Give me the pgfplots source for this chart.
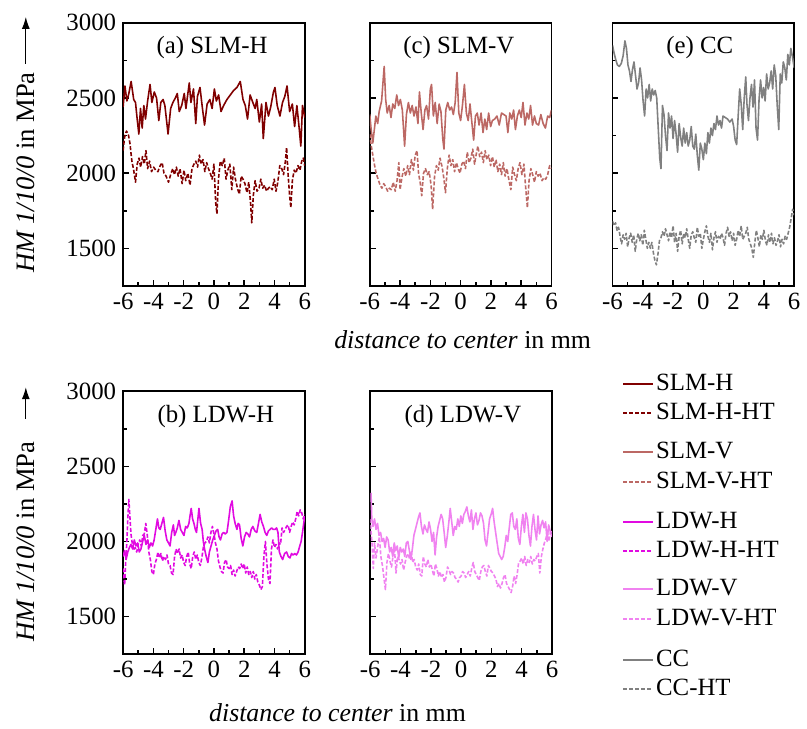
\documentclass[border=0pt]{standalone}
\usepackage{fontspec}
\setmainfont{Liberation Serif}
\usepackage{pgfplots}
\pgfplotsset{compat=1.18}
\usetikzlibrary{arrows.meta}
\definecolor{slmh}{RGB}{128,0,0}
\definecolor{slmv}{RGB}{188,104,100}
\definecolor{ldwh}{RGB}{225,10,225}
\definecolor{ldwv}{RGB}{240,130,240}
\definecolor{ccg}{RGB}{128,128,128}
\newcommand\fs{\fontsize{12.5}{15}\selectfont}
\newcommand\fy{\fontsize{13.4}{16}\selectfont}
\newcommand\fx{\fontsize{13}{15}\selectfont}
\pgfplotsset{
 panel/.style={
  scale only axis, width=91.5pt, height=132.5pt, anchor=south west,
  xmin=-6, xmax=6, ymin=1250, ymax=3000,
  xtick={-6,-4,-2,0,2,4,6}, xticklabels={-6,-4,-2,0,2,4,6},
  ytick={1500,2000,2500,3000},
  minor xtick={-5,-3,-1,1,3,5}, minor ytick={1750,2250,2750},
  tick align=inside, xtick pos=left, ytick pos=left,
  major tick length=3pt, minor tick length=2pt,
  every tick/.style={black, line width=0.8pt},
  axis line style={line width=0.9pt},
  tick label style={font=\fs},
  /pgf/number format/assume math mode=true,
  every axis plot/.append style={line width=0.8pt, line join=round},
 },
 leftpanel/.style={yticklabels={1500,2000,2500,3000}},
 otherpanel/.style={yticklabels={}},
 ht/.style={dash pattern=on 2pt off 1pt},
 legpair/.style={anchor=north west, hide axis, scale only axis, width=1pt, height=1pt,
  xmin=0, xmax=1, ymin=0, ymax=1,
  legend style={at={(0,1)}, anchor=north west, draw=none, fill=none, inner sep=0pt, outer sep=0pt,
   row sep=1.5pt, font=\fs, nodes={inner sep=1pt, text height=9pt, text depth=2.5pt}},
  legend cell align=left,
  legend image code/.code={\draw[##1] (0pt,0pt) -- (15pt,0pt);}},
}
\begin{document}
\begin{tikzpicture}
\path (0,0) rectangle (403.5pt,367pt);
% (a)
\begin{axis}[panel, leftpanel, at={(62pt,223pt)}]
\addplot[slmh] coordinates {(-6.00,2440)(-5.88,2580)(-5.75,2480)(-5.62,2530)(-5.47,2610)(-5.30,2490)(-5.18,2470)(-5.07,2360)(-4.96,2260)(-4.85,2430)(-4.74,2300)(-4.63,2450)(-4.52,2360)(-4.38,2480)(-4.22,2590)(-4.10,2470)(-3.94,2540)(-3.79,2500)(-3.64,2350)(-3.51,2470)(-3.36,2490)(-3.24,2450)(-3.03,2260)(-2.86,2430)(-2.71,2470)(-2.55,2500)(-2.42,2530)(-2.29,2410)(-2.13,2450)(-1.96,2530)(-1.85,2430)(-1.63,2600)(-1.52,2470)(-1.35,2560)(-1.20,2330)(-1.09,2510)(-0.92,2570)(-0.77,2440)(-0.62,2320)(-0.45,2460)(-0.27,2490)(-0.12,2430)(0.03,2560)(0.16,2480)(0.31,2520)(0.47,2410)(0.64,2450)(0.86,2490)(1.08,2520)(1.30,2550)(1.52,2570)(1.74,2610)(1.92,2490)(2.07,2450)(2.22,2360)(2.39,2520)(2.57,2470)(2.72,2430)(2.83,2490)(3.00,2340)(3.15,2460)(3.26,2230)(3.44,2470)(3.60,2380)(3.75,2440)(3.93,2540)(4.03,2570)(4.18,2450)(4.36,2380)(4.53,2470)(4.68,2510)(4.83,2580)(5.00,2410)(5.18,2460)(5.33,2310)(5.48,2450)(5.63,2300)(5.74,2180)(5.85,2450)(6.00,2370)};
\addplot[slmh, ht] coordinates {(-6.00,2150)(-5.90,2240)(-5.78,2280)(-5.66,2260)(-5.55,2200)(-5.42,2080)(-5.30,2020)(-5.18,1940)(-5.07,2060)(-4.95,2100)(-4.84,2040)(-4.72,2110)(-4.60,2060)(-4.49,2150)(-4.38,2030)(-4.25,2080)(-4.12,2010)(-3.98,2040)(-3.85,2020)(-3.70,2010)(-3.55,2050)(-3.42,2070)(-3.30,2000)(-3.16,1980)(-3.00,1940)(-2.86,1990)(-2.72,2030)(-2.60,1990)(-2.48,2040)(-2.36,1980)(-2.24,2030)(-2.10,1930)(-1.98,2020)(-1.86,1950)(-1.72,2000)(-1.58,1920)(-1.45,2030)(-1.32,2060)(-1.20,2080)(-1.08,2040)(-0.96,2120)(-0.84,2060)(-0.72,2090)(-0.60,2010)(-0.48,2070)(-0.36,2030)(-0.24,2000)(-0.12,1960)(0.00,2060)(0.12,1800)(0.20,1730)(0.30,1960)(0.42,2080)(0.55,2050)(0.68,2100)(0.80,1960)(0.92,2020)(1.05,2060)(1.18,1890)(1.30,2040)(1.42,1960)(1.55,1900)(1.68,1860)(1.80,1980)(1.92,1960)(2.05,1930)(2.18,1870)(2.30,1940)(2.42,1800)(2.50,1670)(2.60,1850)(2.72,1950)(2.85,1880)(2.98,1900)(3.10,1960)(3.22,1900)(3.35,1920)(3.48,1880)(3.60,1900)(3.72,1910)(3.85,1890)(3.98,1960)(4.10,1880)(4.22,1940)(4.35,2050)(4.48,2030)(4.60,1990)(4.72,2080)(4.80,2170)(4.90,1990)(5.00,1850)(5.08,1770)(5.18,1950)(5.30,2020)(5.42,2000)(5.55,2050)(5.68,2020)(5.80,2080)(5.90,2100)(6.00,2050)};
\node[font=\fs] at (rel axis cs:0.49,0.905) {(a) SLM-H};
\end{axis}
% (c)
\begin{axis}[panel, otherpanel, at={(186.25pt,223pt)}]
\addplot[slmv] coordinates {(-6.00,2390)(-5.92,2300)(-5.80,2200)(-5.70,2290)(-5.60,2380)(-5.48,2330)(-5.38,2410)(-5.22,2480)(-5.05,2710)(-4.95,2490)(-4.85,2400)(-4.72,2450)(-4.60,2370)(-4.48,2460)(-4.35,2430)(-4.22,2520)(-4.10,2450)(-3.98,2490)(-3.85,2420)(-3.70,2180)(-3.58,2390)(-3.45,2470)(-3.32,2400)(-3.20,2450)(-3.08,2380)(-2.95,2440)(-2.82,2330)(-2.72,2540)(-2.60,2400)(-2.48,2290)(-2.36,2420)(-2.25,2450)(-2.12,2360)(-2.00,2560)(-1.92,2590)(-1.80,2380)(-1.68,2470)(-1.55,2330)(-1.42,2460)(-1.30,2410)(-1.18,2230)(-1.10,2160)(-0.98,2420)(-0.85,2470)(-0.72,2420)(-0.60,2440)(-0.48,2390)(-0.36,2470)(-0.24,2670)(-0.12,2400)(0.00,2350)(0.12,2450)(0.25,2590)(0.38,2400)(0.50,2350)(0.62,2460)(0.75,2330)(0.86,2220)(0.98,2380)(1.10,2400)(1.22,2320)(1.35,2400)(1.48,2270)(1.60,2360)(1.72,2290)(1.85,2400)(1.98,2310)(2.10,2350)(2.25,2360)(2.40,2380)(2.55,2320)(2.70,2400)(2.85,2390)(3.00,2380)(3.12,2270)(3.25,2400)(3.38,2360)(3.50,2420)(3.62,2290)(3.75,2380)(3.88,2420)(4.00,2370)(4.12,2470)(4.25,2320)(4.38,2400)(4.50,2360)(4.62,2450)(4.75,2320)(4.88,2380)(5.00,2330)(5.15,2320)(5.30,2390)(5.45,2330)(5.60,2300)(5.75,2380)(5.88,2370)(6.00,2420)};
\addplot[slmv, ht] coordinates {(-6.00,2260)(-5.90,2180)(-5.80,2120)(-5.70,2060)(-5.58,2000)(-5.45,1960)(-5.32,1920)(-5.20,1900)(-5.08,1930)(-4.95,1910)(-4.82,1880)(-4.70,1900)(-4.58,1890)(-4.45,1940)(-4.32,1880)(-4.20,1950)(-4.08,2070)(-4.00,1890)(-3.88,1970)(-3.75,2030)(-3.62,1980)(-3.50,2050)(-3.38,1990)(-3.25,2090)(-3.12,2020)(-3.00,2120)(-2.88,2150)(-2.78,2000)(-2.66,1930)(-2.57,1850)(-2.45,2000)(-2.32,2030)(-2.20,1990)(-2.08,2010)(-1.95,1920)(-1.85,1760)(-1.72,1980)(-1.60,2050)(-1.48,2020)(-1.36,2100)(-1.22,2040)(-1.10,1960)(-1.00,1870)(-0.88,2030)(-0.76,2120)(-0.64,2050)(-0.52,2090)(-0.40,2010)(-0.28,2070)(-0.16,2030)(-0.04,2000)(0.08,2060)(0.20,2080)(0.32,2030)(0.44,2140)(0.56,2070)(0.68,2100)(0.80,2160)(0.92,2060)(1.04,2130)(1.14,2180)(1.26,2110)(1.38,2140)(1.50,2070)(1.62,2150)(1.74,2090)(1.86,2120)(1.98,2050)(2.10,2110)(2.22,2040)(2.34,2090)(2.46,2010)(2.58,2060)(2.70,1990)(2.82,2070)(2.94,1980)(3.06,2030)(3.18,1960)(3.32,1890)(3.44,2040)(3.56,1990)(3.68,1950)(3.80,2030)(3.92,2070)(4.05,1990)(4.18,2060)(4.30,1900)(4.41,1770)(4.52,1950)(4.64,2030)(4.76,1990)(4.88,1940)(5.00,2010)(5.12,1980)(5.24,2000)(5.38,1950)(5.50,1970)(5.62,1960)(5.75,1990)(5.88,2050)(6.00,2030)};
\node[font=\fs] at (rel axis cs:0.49,0.905) {(c) SLM-V};
\end{axis}
% (e)
\begin{axis}[panel, otherpanel, at={(308.5pt,223pt)}]
\addplot[ccg] coordinates {(-6.00,2850)(-5.90,2800)(-5.80,2760)(-5.68,2720)(-5.55,2710)(-5.42,2730)(-5.30,2780)(-5.18,2880)(-5.08,2830)(-4.98,2720)(-4.88,2680)(-4.78,2610)(-4.68,2690)(-4.58,2740)(-4.48,2650)(-4.38,2560)(-4.28,2600)(-4.18,2700)(-4.08,2620)(-3.98,2480)(-3.88,2380)(-3.78,2560)(-3.68,2500)(-3.58,2590)(-3.48,2480)(-3.38,2560)(-3.28,2520)(-3.18,2550)(-3.08,2500)(-2.98,2300)(-2.88,2100)(-2.80,2030)(-2.70,2450)(-2.60,2390)(-2.50,2250)(-2.40,2150)(-2.30,2400)(-2.20,2300)(-2.10,2380)(-2.00,2230)(-1.90,2350)(-1.80,2260)(-1.70,2140)(-1.60,2330)(-1.50,2240)(-1.40,2180)(-1.30,2300)(-1.20,2200)(-1.10,2270)(-1.00,2180)(-0.90,2220)(-0.80,2310)(-0.70,2180)(-0.60,2160)(-0.50,2260)(-0.40,2120)(-0.30,2020)(-0.20,2200)(-0.10,2160)(0.00,2090)(0.10,2200)(0.20,2130)(0.30,2270)(0.40,2200)(0.50,2300)(0.60,2250)(0.70,2330)(0.80,2290)(0.90,2380)(1.00,2320)(1.10,2350)(1.20,2300)(1.30,2380)(1.45,2370)(1.60,2360)(1.75,2340)(1.90,2360)(2.00,2310)(2.10,2220)(2.20,2190)(2.30,2380)(2.40,2560)(2.50,2460)(2.60,2290)(2.70,2500)(2.80,2640)(2.88,2460)(2.98,2350)(3.08,2500)(3.18,2590)(3.28,2440)(3.38,2620)(3.48,2300)(3.58,2220)(3.68,2490)(3.78,2620)(3.88,2500)(3.98,2570)(4.08,2480)(4.18,2660)(4.28,2560)(4.38,2600)(4.48,2680)(4.58,2560)(4.68,2720)(4.78,2650)(4.88,2450)(4.98,2290)(5.08,2660)(5.18,2600)(5.28,2740)(5.38,2700)(5.48,2620)(5.58,2790)(5.68,2720)(5.78,2830)(5.88,2780)(6.00,2700)};
\addplot[ccg, ht] coordinates {(-6.00,1680)(-5.90,1650)(-5.80,1670)(-5.70,1620)(-5.60,1640)(-5.50,1580)(-5.40,1530)(-5.30,1590)(-5.20,1560)(-5.10,1600)(-5.00,1510)(-4.90,1570)(-4.80,1600)(-4.70,1540)(-4.60,1590)(-4.50,1480)(-4.40,1560)(-4.30,1600)(-4.20,1550)(-4.10,1590)(-4.00,1520)(-3.90,1620)(-3.80,1560)(-3.70,1500)(-3.60,1540)(-3.50,1500)(-3.40,1540)(-3.30,1470)(-3.20,1420)(-3.10,1390)(-3.00,1460)(-2.90,1550)(-2.80,1570)(-2.70,1610)(-2.60,1580)(-2.50,1630)(-2.40,1590)(-2.30,1550)(-2.20,1610)(-2.10,1570)(-2.00,1650)(-1.90,1540)(-1.80,1600)(-1.70,1480)(-1.60,1580)(-1.50,1620)(-1.40,1530)(-1.30,1600)(-1.20,1570)(-1.10,1630)(-1.00,1560)(-0.90,1500)(-0.80,1590)(-0.70,1610)(-0.60,1570)(-0.50,1540)(-0.40,1640)(-0.30,1580)(-0.20,1600)(-0.10,1500)(0.00,1560)(0.10,1610)(0.20,1650)(0.30,1580)(0.40,1540)(0.50,1600)(0.60,1490)(0.70,1570)(0.80,1610)(0.90,1540)(1.00,1580)(1.10,1560)(1.20,1600)(1.30,1570)(1.40,1520)(1.50,1600)(1.60,1640)(1.70,1580)(1.80,1610)(1.90,1550)(2.00,1600)(2.10,1520)(2.20,1560)(2.30,1620)(2.40,1580)(2.50,1650)(2.60,1560)(2.70,1580)(2.80,1600)(2.90,1640)(3.00,1560)(3.10,1530)(3.20,1500)(3.30,1440)(3.40,1540)(3.50,1620)(3.60,1570)(3.70,1510)(3.80,1590)(3.90,1560)(4.00,1620)(4.10,1550)(4.20,1520)(4.30,1590)(4.40,1540)(4.50,1600)(4.60,1530)(4.70,1570)(4.80,1520)(4.90,1550)(5.00,1590)(5.10,1510)(5.20,1560)(5.30,1530)(5.40,1580)(5.50,1560)(5.60,1600)(5.70,1640)(5.80,1700)(5.90,1760)(6.00,1720)};
\node[font=\fs] at (rel axis cs:0.48,0.905) {(e) CC};
\end{axis}
% (b)
\begin{axis}[panel, leftpanel, at={(62pt,37.5pt)}]
\addplot[ldwh] coordinates {(-6.00,1900)(-5.90,1940)(-5.80,1880)(-5.69,1930)(-5.58,1960)(-5.48,1980)(-5.37,1950)(-5.26,2010)(-5.15,1970)(-5.04,1990)(-4.93,1930)(-4.82,1950)(-4.71,2000)(-4.60,2040)(-4.49,1980)(-4.38,2010)(-4.27,1960)(-4.16,1990)(-4.05,1970)(-3.95,2010)(-3.84,2080)(-3.73,2150)(-3.64,2090)(-3.55,2080)(-3.44,2120)(-3.33,2160)(-3.22,2070)(-3.11,2010)(-3.00,1990)(-2.90,1970)(-2.79,2060)(-2.68,2110)(-2.60,2040)(-2.52,2060)(-2.42,2090)(-2.31,2140)(-2.20,2080)(-2.09,2060)(-1.98,2040)(-1.87,2100)(-1.76,2090)(-1.65,2120)(-1.58,2170)(-1.50,2220)(-1.41,2150)(-1.32,2120)(-1.23,2080)(-1.15,2060)(-1.07,2140)(-0.99,2220)(-0.88,2120)(-0.78,2080)(-0.70,2000)(-0.62,1950)(-0.51,1900)(-0.40,1860)(-0.30,1930)(-0.19,1970)(-0.08,2010)(0.03,2040)(0.14,2070)(0.25,2080)(0.34,2030)(0.43,2010)(0.54,2050)(0.64,2060)(0.75,2050)(0.86,2060)(0.97,2140)(1.08,2230)(1.20,2270)(1.30,2170)(1.40,2120)(1.52,2080)(1.60,2120)(1.69,2110)(1.80,2020)(1.91,1970)(2.02,2030)(2.13,2060)(2.24,2050)(2.35,2030)(2.46,2080)(2.57,2100)(2.70,2070)(2.83,2060)(2.94,2120)(3.05,2180)(3.16,2130)(3.27,2100)(3.38,2060)(3.49,2040)(3.60,2070)(3.70,2080)(3.81,2090)(3.92,2080)(4.03,2080)(4.14,2090)(4.23,2060)(4.32,1930)(4.43,1900)(4.54,1880)(4.67,1920)(4.80,1930)(4.91,1900)(5.02,1890)(5.13,1920)(5.23,1910)(5.34,1920)(5.45,1910)(5.56,1930)(5.67,1970)(5.76,2000)(5.85,2060)(5.93,2120)(6.00,2170)};
\addplot[ldwh, ht] coordinates {(-6.00,1820)(-5.95,1760)(-5.90,1710)(-5.83,1860)(-5.75,2000)(-5.69,2150)(-5.62,2280)(-5.56,2180)(-5.48,2050)(-5.40,1990)(-5.30,1940)(-5.20,1960)(-5.10,1930)(-5.00,1980)(-4.90,2010)(-4.80,1970)(-4.70,2040)(-4.60,2050)(-4.50,2120)(-4.40,2040)(-4.30,1930)(-4.20,1880)(-4.10,1800)(-4.00,1780)(-3.90,1850)(-3.80,1880)(-3.70,1930)(-3.60,1890)(-3.50,1920)(-3.40,1870)(-3.30,1900)(-3.20,1880)(-3.10,1910)(-3.00,1850)(-2.90,1840)(-2.80,1790)(-2.70,1780)(-2.60,1900)(-2.50,1950)(-2.40,1920)(-2.30,1950)(-2.20,1890)(-2.10,1910)(-2.00,1860)(-1.90,1840)(-1.80,1900)(-1.70,1930)(-1.60,1850)(-1.50,1820)(-1.40,1900)(-1.30,1930)(-1.20,1880)(-1.10,1910)(-1.00,1860)(-0.90,1840)(-0.80,1890)(-0.70,1960)(-0.60,1990)(-0.50,2000)(-0.40,2030)(-0.30,1990)(-0.20,2060)(-0.10,2100)(0.00,2050)(0.10,1990)(0.20,1950)(0.30,1870)(0.40,1830)(0.50,1800)(0.60,1790)(0.70,1860)(0.80,1880)(0.90,1830)(1.00,1820)(1.10,1840)(1.20,1780)(1.30,1810)(1.40,1770)(1.50,1800)(1.60,1830)(1.70,1820)(1.80,1850)(1.90,1820)(2.00,1850)(2.10,1790)(2.20,1830)(2.30,1780)(2.40,1800)(2.50,1760)(2.60,1800)(2.70,1750)(2.80,1780)(2.90,1730)(3.00,1710)(3.10,1680)(3.20,1700)(3.30,1900)(3.40,2000)(3.50,1850)(3.60,1750)(3.70,1720)(3.80,1950)(3.90,2010)(4.00,1960)(4.10,1980)(4.20,1950)(4.30,1990)(4.40,1980)(4.50,2090)(4.60,2060)(4.70,2080)(4.80,2100)(4.90,2110)(5.00,2060)(5.10,2100)(5.20,2130)(5.30,2110)(5.40,2150)(5.50,2200)(5.60,2170)(5.70,2210)(5.80,2190)(5.90,2150)(6.00,2180)};
\node[font=\fs] at (rel axis cs:0.51,0.905) {(b) LDW-H};
\end{axis}
% (d)
\begin{axis}[panel, otherpanel, at={(186.5pt,37.5pt)}]
\addplot[ldwv] coordinates {(-6.00,2280)(-5.95,2320)(-5.90,2150)(-5.82,2100)(-5.72,2150)(-5.62,2080)(-5.52,2120)(-5.42,2040)(-5.32,2060)(-5.22,2000)(-5.12,2020)(-5.02,1960)(-4.92,2030)(-4.82,2010)(-4.72,1930)(-4.62,1960)(-4.52,1900)(-4.42,1990)(-4.32,1940)(-4.22,1970)(-4.12,1890)(-4.02,1960)(-3.92,1930)(-3.82,1950)(-3.72,1900)(-3.62,1990)(-3.52,2000)(-3.42,1940)(-3.32,1880)(-3.22,1950)(-3.12,2040)(-3.02,2080)(-2.92,2120)(-2.82,2160)(-2.72,2190)(-2.62,2100)(-2.52,2050)(-2.42,2110)(-2.32,2080)(-2.22,2060)(-2.12,2130)(-2.02,2080)(-1.92,2000)(-1.82,2060)(-1.72,1910)(-1.62,2030)(-1.52,2100)(-1.42,2140)(-1.32,2180)(-1.22,2150)(-1.12,2060)(-1.02,1960)(-0.92,2030)(-0.82,2120)(-0.72,2220)(-0.62,2130)(-0.52,2040)(-0.42,2100)(-0.32,2080)(-0.22,2150)(-0.12,2100)(-0.02,2170)(0.08,2120)(0.18,2180)(0.28,2200)(0.38,2230)(0.48,2170)(0.58,2130)(0.68,2210)(0.78,2080)(0.88,2150)(0.98,2190)(1.08,2110)(1.18,2140)(1.28,2190)(1.38,2170)(1.48,2120)(1.58,2010)(1.68,1970)(1.78,2060)(1.88,2150)(1.98,2180)(2.08,2220)(2.18,2130)(2.28,2060)(2.38,1990)(2.48,1920)(2.58,1900)(2.68,1880)(2.78,1900)(2.88,1960)(2.98,2040)(3.08,2000)(3.18,2090)(3.28,2180)(3.38,2190)(3.48,2100)(3.58,2080)(3.68,2150)(3.78,2020)(3.88,1980)(3.98,2100)(4.08,2180)(4.18,2060)(4.28,2190)(4.38,2150)(4.48,2040)(4.58,1970)(4.68,2100)(4.78,2180)(4.88,2080)(4.98,2010)(5.08,2170)(5.18,2050)(5.28,2110)(5.38,2140)(5.48,2090)(5.58,2130)(5.68,2000)(5.78,2110)(5.88,2070)(6.00,2030)};
\addplot[ldwv, ht] coordinates {(-6.00,2150)(-5.95,2070)(-5.88,1980)(-5.80,1820)(-5.72,1990)(-5.62,1890)(-5.52,1960)(-5.40,2030)(-5.30,1900)(-5.20,1840)(-5.10,1760)(-5.00,1680)(-4.90,1860)(-4.80,1920)(-4.70,1870)(-4.60,1830)(-4.50,1900)(-4.40,1950)(-4.30,1790)(-4.20,1900)(-4.10,1880)(-4.00,1850)(-3.90,1880)(-3.80,1810)(-3.70,1860)(-3.60,1900)(-3.50,1920)(-3.40,1880)(-3.30,1930)(-3.20,1860)(-3.10,1880)(-3.00,1830)(-2.90,1810)(-2.80,1850)(-2.70,1780)(-2.60,1770)(-2.50,1900)(-2.40,1850)(-2.30,1830)(-2.20,1880)(-2.10,1830)(-2.00,1850)(-1.90,1810)(-1.80,1770)(-1.70,1850)(-1.60,1820)(-1.50,1770)(-1.40,1800)(-1.30,1760)(-1.20,1780)(-1.10,1730)(-1.00,1760)(-0.90,1830)(-0.80,1810)(-0.70,1780)(-0.60,1800)(-0.50,1790)(-0.40,1760)(-0.30,1750)(-0.20,1730)(-0.10,1760)(0.00,1770)(0.10,1800)(0.20,1790)(0.30,1760)(0.40,1780)(0.50,1800)(0.60,1770)(0.70,1820)(0.80,1860)(0.90,1800)(1.00,1780)(1.10,1760)(1.20,1740)(1.30,1800)(1.40,1830)(1.50,1840)(1.60,1800)(1.70,1770)(1.80,1840)(1.90,1820)(2.00,1800)(2.10,1790)(2.20,1770)(2.30,1750)(2.40,1700)(2.50,1720)(2.60,1690)(2.70,1720)(2.80,1760)(2.90,1780)(3.00,1720)(3.10,1700)(3.20,1680)(3.30,1660)(3.40,1700)(3.50,1770)(3.60,1720)(3.70,1780)(3.80,1860)(3.90,1870)(4.00,1890)(4.10,1850)(4.20,1900)(4.30,1840)(4.40,1880)(4.50,1860)(4.60,1900)(4.70,1850)(4.80,1880)(4.90,1870)(5.00,1900)(5.10,1920)(5.20,1790)(5.30,1900)(5.40,1950)(5.50,1990)(5.60,2020)(5.70,2060)(5.80,2000)(5.90,2060)(6.00,2070)};
\node[font=\fs] at (rel axis cs:0.51,0.905) {(d) LDW-V};
\end{axis}
% legends
\begin{axis}[legpair, at={(313.5pt,180.5pt)}]
\addlegendimage{slmh, line width=1pt}\addlegendentry{SLM-H}
\addlegendimage{slmh, line width=1pt, ht}\addlegendentry{SLM-H-HT}
\end{axis}
\begin{axis}[legpair, at={(313.5pt,146pt)}]
\addlegendimage{slmv, line width=1pt}\addlegendentry{SLM-V}
\addlegendimage{slmv, line width=1pt, ht}\addlegendentry{SLM-V-HT}
\end{axis}
\begin{axis}[legpair, at={(313.5pt,111pt)}]
\addlegendimage{ldwh, line width=1pt}\addlegendentry{LDW-H}
\addlegendimage{ldwh, line width=1pt, ht}\addlegendentry{LDW-H-HT}
\end{axis}
\begin{axis}[legpair, at={(313.5pt,77pt)}]
\addlegendimage{ldwv, line width=1pt}\addlegendentry{LDW-V}
\addlegendimage{ldwv, line width=1pt, ht}\addlegendentry{LDW-V-HT}
\end{axis}
\begin{axis}[legpair, at={(313.5pt,41.5pt)}]
\addlegendimage{ccg, line width=1pt}\addlegendentry{CC}
\addlegendimage{ccg, line width=1pt, ht}\addlegendentry{CC-HT}
\end{axis}
% axis labels
\node[rotate=90, anchor=west, font=\fy, inner sep=0pt] at (13pt,229.5pt) {\textit{HM 1/10/0} in MPa};
\draw[-{Latex[length=6pt,width=4pt]}, line width=0.6pt] (13pt,335pt) -- (13pt,358.5pt);
\node[rotate=90, anchor=west, font=\fy, inner sep=0pt] at (13pt,43.5pt) {\textit{HM 1/10/0} in MPa};
\draw[-{Latex[length=6pt,width=4pt]}, line width=0.6pt] (13pt,156pt) -- (13pt,172pt);
\node[font=\fx] at (233pt,196pt) {\textit{distance to center} in mm};
\node[font=\fx] at (170pt,8pt) {\textit{distance to center} in mm};
\end{tikzpicture}
\end{document}
